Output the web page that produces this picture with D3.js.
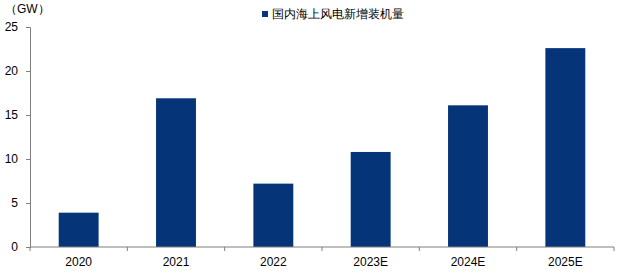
<!DOCTYPE html>
<html>
<head>
<meta charset="utf-8">
<script src="https://cdn.jsdelivr.net/npm/d3@7"></script>
<style>
  body { margin: 0; background: #fff; }
  text { font-family: Arial, "Liberation Sans", sans-serif; }
</style>
</head>
<body>
<script>
const years = ["2020", "2021", "2022", "2023E", "2024E", "2025E"];
const additions = [3.9, 16.9, 7.2, 10.8, 16.1, 22.6];
const yTicks = [0, 5, 10, 15, 20, 25];
const seriesName = "国内海上风电新增装机量";
const unitLabel = "（GW）";

const width = 626, height = 274;
const margin = { top: 27, right: 12, bottom: 27, left: 30 };
const barColor = "#063478";

const svg = d3.select("body").append("svg")
  .attr("width", width)
  .attr("height", height);

const x = d3.scaleBand()
  .domain(years)
  .range([margin.left, width - margin.right])
  .paddingInner(0.59)
  .paddingOuter(0.295);

const y = d3.scaleLinear()
  .domain([0, 25])
  .range([height - margin.bottom, margin.top]);

// bars
svg.selectAll("rect.bar")
  .data(years)
  .enter()
  .append("rect")
  .attr("class", "bar")
  .attr("x", d => x(d))
  .attr("width", x.bandwidth())
  .attr("y", (d, i) => y(additions[i]))
  .attr("height", (d, i) => y(0) - y(additions[i]))
  .attr("fill", barColor);

// y axis
const yAxis = svg.append("g")
  .attr("transform", `translate(${margin.left},0)`)
  .call(d3.axisLeft(y).tickValues(yTicks).tickSize(4).tickPadding(8));
yAxis.select(".domain").attr("stroke", "#7f7f7f");
yAxis.selectAll(".tick line").attr("stroke", "#7f7f7f");
yAxis.selectAll(".tick text").attr("font-size", 12).attr("fill", "#000");

// x axis, ticks on band boundaries
const xAxisG = svg.append("g")
  .attr("transform", `translate(0,${y(0)})`);
xAxisG.append("line")
  .attr("x1", margin.left)
  .attr("x2", width - margin.right)
  .attr("stroke", "#7f7f7f");
const step = x.step();
const bounds = years.map(d => x(d) - step * x.paddingInner() / 2).concat([width - margin.right]);
xAxisG.selectAll("line.tk")
  .data(bounds)
  .enter()
  .append("line")
  .attr("class", "tk")
  .attr("x1", d => d).attr("x2", d => d)
  .attr("y1", 0).attr("y2", 4)
  .attr("stroke", "#7f7f7f");
xAxisG.selectAll("text")
  .data(years)
  .enter()
  .append("text")
  .attr("x", d => x(d) + x.bandwidth() / 2)
  .attr("y", 19)
  .attr("text-anchor", "middle")
  .attr("font-size", 12)
  .text(d => d);

// unit label
svg.append("text")
  .attr("x", 5)
  .attr("y", 13)
  .attr("font-size", 12)
  .attr("font-family", "'Noto Sans CJK SC', sans-serif")
  .text(unitLabel);

// legend
const legend = svg.append("g").attr("transform", "translate(262,11)");
legend.append("rect")
  .attr("width", 6).attr("height", 6)
  .attr("fill", barColor);
legend.append("text")
  .attr("x", 10)
  .attr("y", 7)
  .attr("font-size", 12)
  .attr("font-family", "'Noto Sans CJK SC', sans-serif")
  .text(seriesName);
</script>
</body>
</html>
